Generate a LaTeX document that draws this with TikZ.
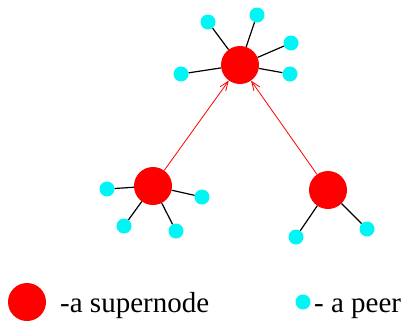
\documentclass[tikz,border=0pt]{standalone}
\usepackage{fontspec}
\setmainfont{Liberation Serif}
\usetikzlibrary{arrows.meta}
\definecolor{peercyan}{RGB}{0,245,245}
\begin{document}
\begin{tikzpicture}[x=1pt,y=-1pt,
  super/.style={circle,fill=red,inner sep=0pt,minimum size=38pt},
  peer/.style={circle,fill=peercyan,inner sep=0pt,minimum size=15pt},
  link/.style={draw=black,line width=1.2pt},
  up/.style={draw=red,line width=0.8pt,-{Straight Barb[length=9pt,width=7pt]}},
  legend/.style={anchor=base west,inner sep=0pt,font=\fontsize{29}{31}\selectfont}]
\useasboundingbox (0,0) rectangle (403,322);
% supernodes
\node[super] (T) at (240,65) {};
\node[super] (L) at (153,186) {};
\node[super] (R) at (328,190) {};
% peers of top
\node[peer] (t1) at (208,22) {};
\node[peer] (t2) at (257,15) {};
\node[peer] (t3) at (291,43) {};
\node[peer] (t4) at (290,74) {};
\node[peer] (t5) at (181,74) {};
% peers of left
\node[peer] (l1) at (107,189) {};
\node[peer] (l2) at (202,197) {};
\node[peer] (l3) at (124,226) {};
\node[peer] (l4) at (176,231) {};
% peers of right
\node[peer] (r1) at (296,237) {};
\node[peer] (r2) at (367,229) {};
% links
\foreach \p in {t1,t2,t3,t4,t5} \draw[link] (\p) -- (T);
\foreach \p in {l1,l2,l3,l4} \draw[link] (\p) -- (L);
\foreach \p in {r1,r2} \draw[link] (\p) -- (R);
% arrows
\draw[up] (L) -- (T);
\draw[up] (R) -- (T);
% legend
\node[super] (ls) at (27,302) {};
\node[legend] (lst) at (60,312) {-a supernode};
\node[peer] (lp) at (303,302) {};
\node[legend] (lpt) at (314,312) {- a peer};
\end{tikzpicture}
\end{document}
